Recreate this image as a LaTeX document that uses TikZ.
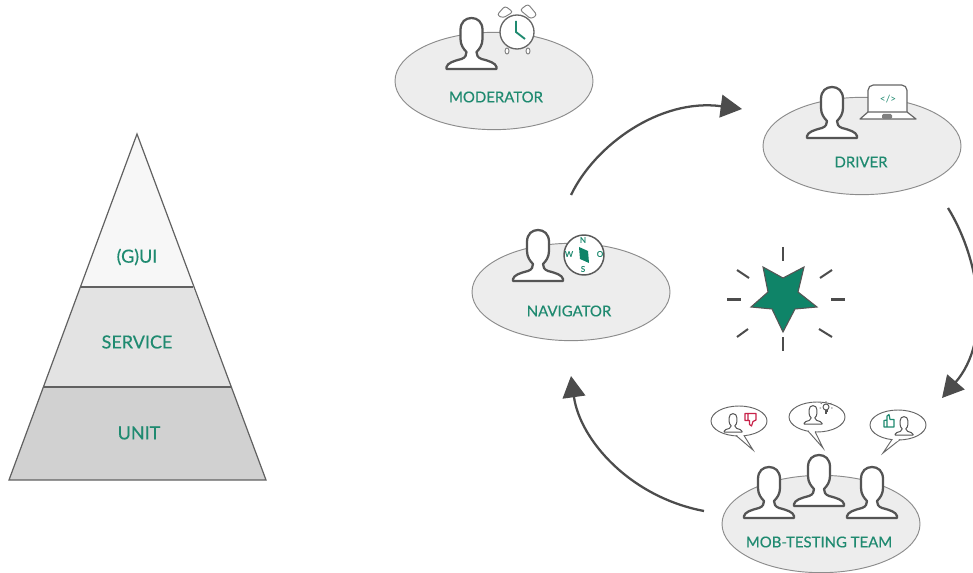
\documentclass[tikz,border=0pt]{standalone}
\usepackage{fontspec}
\setmainfont{Lato}[BoldFont={Lato},BoldFeatures={FakeBold=0.35}]
\newfontfamily\plainfont{Lato}
\usetikzlibrary{arrows.meta,shapes.geometric}
\definecolor{teal1}{HTML}{1F8A70}
\definecolor{star1}{HTML}{0F8468}
\definecolor{line1}{HTML}{555555}
\definecolor{ell1}{HTML}{EDEDED}
\definecolor{red1}{HTML}{C8234A}
\tikzset{
  x=0.75pt,y=-0.75pt,
  disc/.style={ellipse,draw=black!45,fill=ell1,line width=0.7pt,minimum width=148.5pt,minimum height=73pt,inner sep=0pt},
  lab/.style={text=teal1,font=\fontsize{11.2pt}{13pt}\selectfont\bfseries,inner sep=0pt},
  biglab/.style={text=teal1,font=\fontsize{13.5pt}{15pt}\selectfont\bfseries,inner sep=0pt},
  tiny lab/.style={text=teal1,font=\fontsize{6pt}{7pt}\selectfont\bfseries,inner sep=0pt},
  cycle arrow/.style={draw=black!70,line width=1.7pt,-{Triangle[length=16pt,width=17pt]}},
  pyr/.style={draw=black!62,line width=0.9pt},
  ray/.style={draw=black!70,line width=1.5pt},
  bubble/.style={draw=black!60,fill=white,line width=0.7pt},
  person outline/.style={line join=round,fill=white,draw=line1},
  person/.pic={
    \draw[person outline,line width=1.7pt]
      (-25,0) -- (-25,-2) .. controls (-24,-6) and (-18,-8) .. (-10,-10)
      .. controls (-6,-11.5) and (-5,-14) .. (-5,-17)
      .. controls (-8,-20) and (-11,-24) .. (-11,-30)
      -- (-11,-39) .. controls (-11,-47) and (-6,-51) .. (0,-51)
      .. controls (6,-51) and (11,-47) .. (11,-39)
      -- (11,-30) .. controls (11,-24) and (8,-20) .. (5,-17)
      .. controls (5,-14) and (6,-11.5) .. (10,-10)
      .. controls (18,-8) and (24,-6) .. (25,-2) -- (25,0) -- cycle;
  },
  smallperson/.pic={
    \draw[person outline,line width=0.75pt,scale=0.36]
      (-25,0) -- (-25,-2) .. controls (-24,-6) and (-18,-8) .. (-10,-10)
      .. controls (-6,-11.5) and (-5,-14) .. (-5,-17)
      .. controls (-8,-20) and (-11,-24) .. (-11,-30)
      -- (-11,-39) .. controls (-11,-47) and (-6,-51) .. (0,-51)
      .. controls (6,-51) and (11,-47) .. (11,-39)
      -- (11,-30) .. controls (11,-24) and (8,-20) .. (5,-17)
      .. controls (5,-14) and (6,-11.5) .. (10,-10)
      .. controls (18,-8) and (24,-6) .. (25,-2) -- (25,0) -- cycle;
  }
}
\begin{document}
\begin{tikzpicture}
\useasboundingbox (0,0) rectangle (973,573);
\fill[white] (0,0) rectangle (973,573);
\clip (0,0) rectangle (973,573);

% pyramid
\coordinate (apex) at (137,134);
\coordinate (sl) at (81,287);
\coordinate (sr) at (193,287);
\coordinate (ul) at (43,387);
\coordinate (ur) at (231,387);
\coordinate (bl) at (9,480);
\coordinate (br) at (266,480);
\fill[fill=black!3] (apex) -- (sr) -- (sl) -- cycle;
\fill[fill=black!11] (sl) -- (sr) -- (ur) -- (ul) -- cycle;
\fill[fill=black!18] (ul) -- (ur) -- (br) -- (bl) -- cycle;
\draw[pyr,line join=miter] (apex) -- (br) -- (bl) -- cycle;
\draw[pyr] (sl) -- (sr);
\draw[pyr] (ul) -- (ur);
\node[biglab] (gui) at (137,257) {(G)UI};
\node[biglab] (service) at (137,342) {SERVICE};
\node[biglab] (unit) at (139,433) {UNIT};

% arrows
\coordinate (a1s) at (571,195);
\coordinate (a1e) at (742,109);
\coordinate (a2s) at (948,208);
\coordinate (a2e) at (942,398);
\coordinate (a3s) at (704,511);
\coordinate (a3e) at (571,376);
\draw[cycle arrow] (a1s) .. controls (595,145) and (660,98) .. (a1e);
\draw[cycle arrow] (a2s) .. controls (980,260) and (992,340) .. (a2e);
\draw[cycle arrow] (a3s) .. controls (630,497) and (580,440) .. (a3e);

% moderator
\node[disc] (mod) at (494,81) {};
\node[lab] (modl) at (496,97) {MODERATOR};
\pic at (471.5,69) {person};
\begin{scope}[shift={(517,32)}]
  \draw[draw=black!50,fill=white,line width=0.7pt,rounded corners=2pt]
    (-20,-17) -- (-12,-26) -- (-4,-20) -- (-14,-14) -- cycle;
  \draw[draw=black!50,fill=white,line width=0.7pt,rounded corners=2pt]
    (20,-17) -- (11,-28) -- (3,-22) -- (14,-13) -- cycle;
  \draw[draw=black!50,fill=white,line width=0.7pt] (-10,19) ellipse (2 and 3);
  \draw[draw=black!50,fill=white,line width=0.7pt] (11,19) ellipse (2 and 3);
  \draw[draw=black!60,fill=white,line width=1pt] (0,0) circle (17);
  \draw[draw=teal1,line width=1.4pt] (-1,-11) -- (-1,0) -- (8,7);
\end{scope}

% driver
\node[disc] (drv) at (862,146) {};
\node[lab] (drvl) at (861,162) {DRIVER};
\pic at (832,138) {person};
\draw[draw=black!60,fill=white,line width=0.9pt,rounded corners=4pt] (868,112) -- (868,85) -- (907,85) -- (907,112);
\draw[draw=black!60,fill=white,line width=0.9pt,line join=round] (868,112) -- (860,119) -- (916,119) -- (907,112) -- cycle;
\fill[fill=black!50,rounded corners=1pt] (882,114) rectangle (892,119);
\node[text=teal1,font=\fontsize{7.5pt}{8pt}\selectfont\plainfont,inner sep=0pt] (code) at (888,99) {</>};

% navigator
\node[disc] (nav) at (571,292) {};
\node[lab] (navl) at (569,311) {NAVIGATOR};
\pic at (538,281) {person};
\draw[draw=black!65,fill=white,line width=1.1pt] (584,255) circle (20);
\fill[star1] (579,247) -- (588,251) -- (589,263) -- (580,259) -- cycle;
\node[tiny lab] (n) at (583,240) {N};
\node[tiny lab] (s) at (583,269) {S};
\node[tiny lab] (w) at (569,254) {W};
\node[tiny lab] (o) at (600,254) {O};

% star
\draw[draw=line1,fill=star1,line width=0.8pt,line join=miter]
  (763,267) -- (783,278) -- (804,267) -- (798,292) -- (817,307) -- (795,309)
  -- (783,332) -- (772,309) -- (751,307) -- (768,292) -- cycle;
\foreach \a/\b/\c/\d in {783/247/783/261, 783/337/783/351, 727/299.5/741/299.5, 831/299.5/845/299.5,
  737/270/749/278, 820/278/832/270, 737/337/748/329, 819/329/832/337}
  \draw[ray] (\a,\b) -- (\c,\d);

% team
\node[disc] (team) at (821,524) {};
\node[lab] (teaml) at (819,542) {MOB-TESTING TEAM};
\pic at (769,518) {person};
\pic at (872,518) {person};
\pic at (819,506) {person};

% bubbles
\draw[bubble] (739,421) ellipse (28 and 15);
\draw[bubble] (736,435.5) -- (753,450) -- (744,435.5);
\fill[white] (737,434) -- (743,434) -- (743,436) -- (738,436) -- cycle;
\draw[bubble] (817,417) ellipse (28 and 15);
\draw[bubble] (808,431) -- (823,448) -- (815,431.5);
\fill[white] (809,430) -- (815,430) -- (814.5,432.5) -- (810,432.5) -- cycle;
\draw[bubble] (898,425) ellipse (28 and 15);
\draw[bubble] (892,439.5) -- (883,453) -- (900,439.5);
\fill[white] (893,438) -- (899,438) -- (898,441) -- (893,441) -- cycle;
\pic at (733,432) {smallperson};
\pic at (813,424) {smallperson};
\pic at (904,435) {smallperson};
% thumb down
\draw[draw=red1,line width=0.9pt,line join=round] (745,413.5) -- (756,413.5) -- (756,420) -- (753,421.5) -- (751.5,426) -- (749.5,424.5) -- (749.5,420.5) -- (745,420.5) -- cycle (748,413.5) -- (748,420.5);
% thumb up
\draw[draw=teal1,line width=0.9pt,line join=round] (884,427) -- (894,427) -- (894,419.5) -- (890,419.5) -- (889,414.5) -- (887,416) -- (887,420) -- (884,420.5) -- cycle (887,420) -- (887,427);
% bulb
\draw[draw=line1,line width=0.7pt] (826,407) circle (3);
\draw[draw=line1,line width=0.8pt] (824.5,411) -- (827.5,411) (825,413) -- (827,413);
\draw[draw=line1,line width=0.4pt] (826,402.5) -- (826,401) (822,404) -- (820.5,403) (830,404) -- (831.5,403) (821,408) -- (819.5,408) (831,408) -- (832.5,408);
\end{tikzpicture}
\end{document}
